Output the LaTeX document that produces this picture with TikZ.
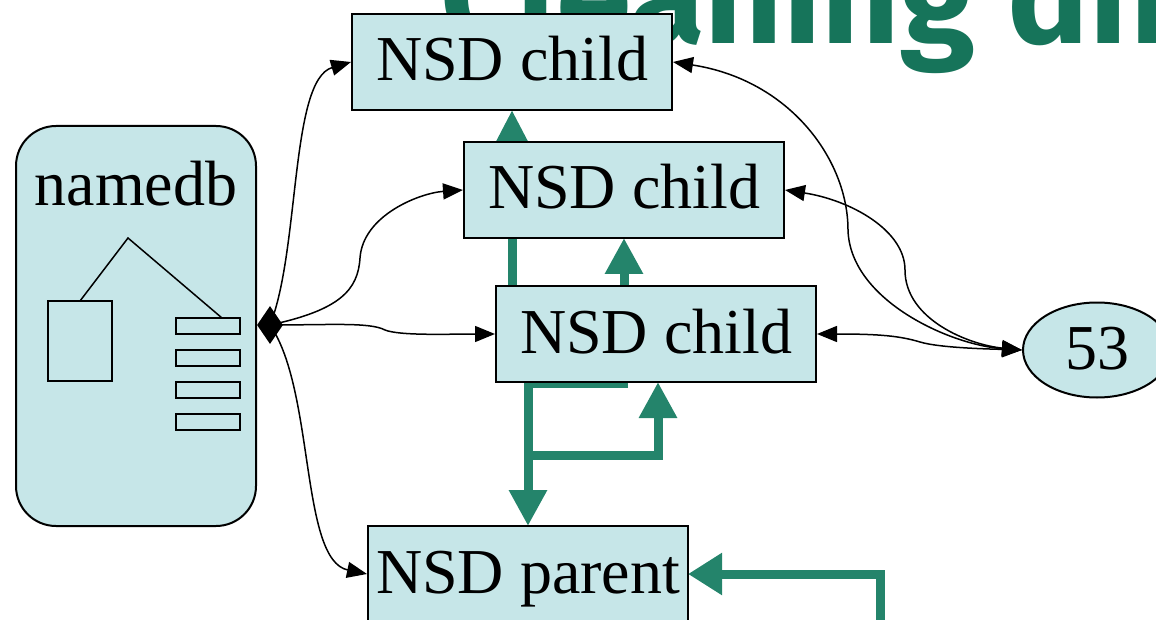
\documentclass[tikz,border=0pt]{standalone}
\usepackage{fontspec}
\setmainfont{Liberation Serif}
\newfontfamily\titlefont{Fira Sans}
\usetikzlibrary{arrows.meta,shapes.geometric,calc}
\definecolor{boxfill}{RGB}{198,230,232}
\definecolor{garrowc}{RGB}{36,132,107}
\definecolor{titlec}{RGB}{22,116,90}
\tikzset{
  bigtext/.style={font=\fontsize{64}{64}\selectfont, text height=50pt, text depth=12pt},
  nsdbox/.style={draw=black, line width=2pt, fill=boxfill, minimum width=320pt, minimum height=96pt, inner sep=0pt, bigtext},
  conn/.style={line width=1.5pt, -{Triangle[length=20pt,width=16pt]}},
  biconn/.style={line width=1.5pt, {Triangle[length=20pt,width=16pt]}-{Triangle[length=20pt,width=16pt]}},
  garrow/.style={draw=garrowc, line width=9pt, -{Triangle[length=36pt,width=36pt]}},
  gline/.style={draw=garrowc, line width=9pt},
  thin/.style={line width=1.5pt}
}
\begin{document}
\begin{tikzpicture}[x=1pt,y=-1pt]
\useasboundingbox (0,0) rectangle (1156,620);
\clip (0,0) rectangle (1156,620);
% title
\node[anchor=base west, text=titlec, inner sep=0pt, font=\titlefont\bfseries\fontsize{136}{136}\selectfont] (title) at (440,44) {Cleaning dif};
% node positions
\coordinate (pc1) at (512,62);
\coordinate (pc2) at (624,190);
\coordinate (pc3) at (656,334);
\coordinate (pcp) at (528,574);
% green arrows (drawn first, boxes on top)
\draw[garrow, -{Triangle[length=32pt,width=30pt]}] (512,290) -- (512,110);
\draw[garrow] (624,290) -- (624,238);
\draw[gline] (628,383) -- (528,383);
\draw[garrow] (528,380) -- (528,526);
\draw[garrow] (528,455) -| (658,382);
\draw[garrow, -{Triangle[length=34pt,width=40pt]}] (880,640) |- (688,574);
% boxes
\node[draw=black, line width=2pt, fill=boxfill, rounded corners=40pt, minimum width=240pt, minimum height=400pt] (ndb) at (136,326) {};
\node[bigtext, inner sep=0pt] (ndbl) at (136,187) {namedb};
\draw[thin] (80,301) -- (128,238) -- (222,318);
\draw[thin] (48,301) rectangle (112,381);
\foreach \yy in {318,350,382,414} \draw[thin] (176,\yy) rectangle (240,\yy+16);
\node[nsdbox] (c1) at (pc1) {NSD child};
\node[nsdbox] (c2) at (pc2) {NSD child};
\node[nsdbox] (c3) at (pc3) {NSD child};
\node[nsdbox] (cp) at (pcp) {NSD parent};
\node[ellipse, draw=black, line width=2pt, fill=boxfill, minimum width=148pt, minimum height=95pt, inner sep=0pt, bigtext] (e53) at (1097,350) {53};
\node[diamond, fill=black, minimum width=26pt, minimum height=38pt, inner sep=0pt] (dm) at (270,325) {};
% black connectors from namedb
\draw[conn] (dm.center) .. controls (300,250) and (290,80) .. (c1.west);
\draw[conn] (dm.center) .. controls (340,310) and (358,290) .. (360,258) .. controls (363,215) and (420,193) .. (c2.west);
\draw[conn] (dm.center) .. controls (330,325) and (370,322) .. (385,330) .. controls (400,336) and (450,334) .. (c3.west);
\draw[conn] (dm.center) .. controls (315,390) and (300,560) .. (cp.west);
% connectors to 53
\draw[biconn] (c3.east) .. controls (880,334) and (900,336) .. (920,342) .. controls (940,348) and (990,349) .. (e53.west);
\draw[biconn] (c2.east) .. controls (850,200) and (905,230) .. (905,270) .. controls (905,320) and (970,345) .. (e53.west);
\draw[biconn] (c1.east) .. controls (790,80) and (848,160) .. (848,230) .. controls (850,300) and (950,345) .. (e53.west);
\end{tikzpicture}
\end{document}
